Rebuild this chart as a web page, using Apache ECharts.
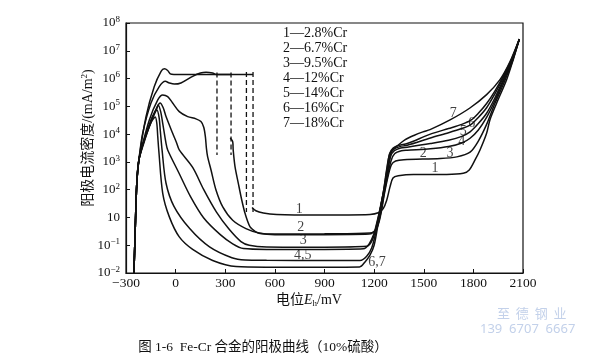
<!DOCTYPE html>
<html><head><meta charset="utf-8">
<script src="https://cdn.jsdelivr.net/npm/echarts@6/dist/echarts.min.js"></script>
<style>html,body{margin:0;padding:0;background:#fff}#c{width:600px;height:364px}</style>
</head><body><div id="c"></div>
<script>
// ---- data (x: potential mV, y: decade position on the printed axis, 0 = bottom tick) ----
const yTickExponents = ['−2', '−1', '', '2', '3', '4', '5', '6', '7', '8'];
const legendLines = ['1—2.8%Cr', '2—6.7%Cr', '3—9.5%Cr', '4—12%Cr', '5—14%Cr', '6—16%Cr', '7—18%Cr'];

const commonRise = [[-252, 0], [-245, 1.4], [-235, 3.2], [-222, 4.07]];

const curve1a = [[-179, 5.63], [-129, 6.71], [-88, 7.26], [-68, 7.35], [-48, 7.29], [-32, 7.17], [-10, 7.15], [468, 7.15]];
const curve1b = [[462, 2.36], [485, 2.24], [530, 2.16], [611, 2.11], [853, 2.09], [1175, 2.11], [1225, 2.17], [1255, 2.32], [1276, 2.62], [1296, 3.10], [1314, 3.42], [1346, 3.50], [1437, 3.55], [1639, 3.55], [1739, 3.59], [1775, 3.71], [1810, 4.07], [1840, 4.43], [1880, 5.03], [1900, 5.51], [1941, 6.12], [2001, 6.96], [2041, 7.68], [2078, 8.42]];

const curve2a = [[-199, 5.03], [-149, 6.12], [-99, 6.71], [-62, 6.90], [-38, 6.84], [-8, 6.80], [32, 6.84], [103, 7.08], [150, 7.2], [184, 7.23], [224, 7.2], [244, 7.15], [335, 7.15]];
const curve2b = [[330, 4.86], [345, 4.73], [348, 4.43], [359, 3.83], [379, 3.23], [400, 2.62], [420, 2.14], [450, 1.66], [480, 1.5], [510, 1.42], [600, 1.40], [900, 1.41], [1175, 1.44], [1215, 1.6], [1240, 2.1], [1262, 2.85], [1285, 3.5], [1305, 3.9], [1330, 4.03], [1380, 4.08], [1600, 4.12], [1700, 4.18], [1780, 4.35], [1830, 4.75], [1880, 5.35], [1930, 6.1], [1980, 6.78], [2030, 7.52], [2078, 8.42]];

const curve3 = [[-209, 4.43], [-159, 5.51], [-108, 6.23], [-78, 6.41], [-48, 6.35], [-18, 6.12], [22, 5.81], [73, 5.63], [123, 5.55], [153, 5.45], [170, 5.25], [180, 4.9], [186, 4.5], [193, 4.2], [214, 3.71], [244, 2.99], [285, 2.38], [345, 1.90], [425, 1.60], [505, 1.44], [600, 1.38], [900, 1.38], [1170, 1.40], [1212, 1.58], [1238, 2.1], [1260, 2.85], [1283, 3.55], [1303, 4.05], [1325, 4.3], [1365, 4.4], [1400, 4.42], [1540, 4.47], [1650, 4.55], [1730, 4.68], [1780, 4.85], [1830, 5.15], [1880, 5.6], [1930, 6.2], [1980, 6.88], [2030, 7.56], [2078, 8.42]];

const curve4 = [[-180, 4.9], [-140, 5.6], [-110, 6.0], [-94, 6.12], [-75, 5.95], [-58, 5.63], [-18, 5.03], [5, 4.7], [22, 4.43], [103, 3.8], [170, 3.0], [246, 2.2], [320, 1.6], [395, 1.13], [445, 1.0], [550, 0.94], [900, 0.93], [1155, 0.96], [1190, 1.2], [1218, 1.8], [1240, 2.4], [1260, 2.95], [1281, 3.6], [1300, 4.2], [1322, 4.4], [1360, 4.5], [1400, 4.53], [1540, 4.66], [1650, 4.78], [1730, 4.92], [1780, 5.08], [1830, 5.38], [1880, 5.75], [1930, 6.3], [1980, 6.95], [2030, 7.6], [2078, 8.42]];

const curve5 = [[-185, 4.85], [-140, 5.55], [-115, 5.9], [-105, 6.05], [-90, 5.8], [-78, 5.39], [-58, 4.67], [-48, 4.43], [20, 3.6], [90, 2.75], [170, 1.98], [270, 1.38], [345, 1.05], [410, 0.88], [550, 0.85], [900, 0.85], [1135, 0.87], [1170, 1.05], [1198, 1.4], [1222, 1.95], [1242, 2.5], [1260, 3.0], [1279, 3.65], [1297, 4.25], [1318, 4.45], [1355, 4.55], [1400, 4.6], [1540, 4.86], [1650, 5.05], [1730, 5.2], [1780, 5.32], [1830, 5.6], [1880, 5.95], [1930, 6.45], [1980, 7.02], [2030, 7.64], [2078, 8.42]];

const curve6 = [[-190, 4.8], [-150, 5.5], [-125, 5.8], [-113, 5.87], [-100, 5.6], [-93, 5.15], [-82, 4.43], [-58, 3.23], [-10, 2.4], [85, 1.6], [205, 0.94], [340, 0.55], [420, 0.47], [550, 0.46], [900, 0.45], [1115, 0.45], [1155, 0.6], [1185, 0.9], [1208, 1.4], [1228, 2.0], [1245, 2.55], [1260, 3.05], [1277, 3.7], [1294, 4.3], [1315, 4.5], [1350, 4.6], [1400, 4.66], [1540, 5.0], [1650, 5.2], [1730, 5.35], [1785, 5.5], [1830, 5.75], [1880, 6.1], [1930, 6.55], [1980, 7.08], [2030, 7.68], [2078, 8.42]];

const curve7 = [[-195, 4.7], [-155, 5.35], [-135, 5.55], [-123, 5.62], [-114, 5.4], [-108, 4.91], [-102, 4.43], [-78, 2.87], [-38, 2.02], [22, 1.30], [103, 0.85], [224, 0.45], [365, 0.23], [546, 0.21], [900, 0.21], [1112, 0.22], [1145, 0.40], [1175, 0.64], [1200, 1.0], [1222, 1.7], [1242, 2.45], [1258, 3.0], [1275, 3.7], [1292, 4.25], [1312, 4.45], [1336, 4.56], [1386, 4.79], [1440, 4.95], [1495, 5.08], [1538, 5.16], [1659, 5.51], [1779, 5.94], [1880, 6.42], [1961, 6.96], [2021, 7.6], [2078, 8.42]];

const dashedDrops = [
  [[250, 7.22], [250, 4.25]],
  [[335, 7.22], [335, 4.25]],
  [[428, 7.24], [428, 2.2]],
  [[468, 7.24], [468, 2.2]]
];

const curveLabels = [
  [748, 2.29, '1'], [756, 1.64, '2'], [772, 1.16, '3'], [768, 0.64, '4,5'], [1218, 0.40, '6,7'],
  [1568, 3.77, '1'], [1497, 4.30, '2'], [1659, 4.30, '3'], [1729, 4.73, '4'],
  [1739, 5.09, '5'], [1790, 5.39, '6'], [1679, 5.75, '7']
];

// ---- chart ----
const SERIF = "'Liberation Serif','Times New Roman',serif";
const CJK = "'Liberation Serif','Noto Sans CJK SC',serif";
const INK = '#111';

const solidSegments = [
  commonRise.concat(curve1a), curve1b,
  commonRise.concat(curve2a), curve2b,
  commonRise.concat(curve3),
  commonRise.concat(curve4),
  commonRise.concat(curve5),
  commonRise.concat(curve6),
  commonRise.concat(curve7)
];

const series = [];
solidSegments.forEach(pts => series.push({
  type: 'line', data: pts, symbol: 'none', smooth: 0.3, silent: true,
  lineStyle: { color: INK, width: 1.5 }, z: 3
}));
dashedDrops.forEach(pts => series.push({
  type: 'line', data: pts, symbol: 'none', silent: true,
  lineStyle: { color: INK, width: 1.3, type: [5, 3] }, z: 3
}));
series.push({
  type: 'scatter', symbolSize: 1, silent: true,
  itemStyle: { color: 'rgba(0,0,0,0)' },
  data: curveLabels.map(l => ({ value: [l[0], l[1]], name: l[2] })),
  label: { show: true, position: 'inside', formatter: '{b}', color: INK, fontFamily: SERIF, fontSize: 14 },
  z: 5
});

const legendGraphics = legendLines.map((t, i) => ({
  type: 'text', left: 283, top: 26 + i * 15.1,
  style: { text: t, fill: INK, font: '14px ' + SERIF }
}));

const chart = echarts.init(document.getElementById('c'), null, { renderer: 'canvas' });
chart.setOption({
  animation: false,
  backgroundColor: '#fff',
  grid: { left: 126, right: 77, top: 23, bottom: 91, show: true, borderColor: INK, borderWidth: 1.2, backgroundColor: 'transparent' },
  xAxis: {
    type: 'value', min: -300, max: 2100, interval: 300,
    axisLine: { onZero: false, lineStyle: { color: INK, width: 1.2 } },
    axisTick: { inside: true, length: 4, lineStyle: { color: INK, width: 1 } },
    splitLine: { show: false },
    axisLabel: { color: INK, fontFamily: SERIF, fontSize: 13.5, margin: 3,
      formatter: v => (v < 0 ? '−' + Math.abs(v) : String(v)) }
  },
  yAxis: {
    type: 'value', min: 0, max: 9, interval: 1,
    axisLine: { onZero: false, lineStyle: { color: INK, width: 1.2 } },
    axisTick: { inside: true, length: 4, lineStyle: { color: INK, width: 1 } },
    splitLine: { show: false },
    axisLabel: {
      margin: 6, color: INK,
      formatter: v => { const e = yTickExponents[Math.round(v)]; return e ? '{b|10}{s|' + e + '}' : '{b|10}'; },
      rich: {
        b: { fontFamily: SERIF, fontSize: 13, lineHeight: 16, color: INK },
        s: { fontFamily: SERIF, fontSize: 9, lineHeight: 9, verticalAlign: 'top', color: INK }
      }
    }
  },
  series: series,
  graphic: legendGraphics.concat([
    { type: 'text', x: 88, y: 138, rotation: Math.PI / 2,
      style: { text: '{a|阳极电流密度/(mA/m}{s|2}{a|)}', align: 'center', verticalAlign: 'middle',
        rich: { a: { font: '14px ' + CJK, fill: INK, lineHeight: 16 }, s: { font: '9px ' + SERIF, fill: INK, lineHeight: 9, verticalAlign: 'top' } } } },
    { type: 'text', x: 309, y: 300,
      style: { text: '{a|电位}{e|E}{h|h}{a|/mV}', align: 'center', verticalAlign: 'middle',
        rich: { a: { font: '14px ' + CJK, fill: INK, lineHeight: 16 }, e: { font: 'italic 14px ' + SERIF, fill: INK, lineHeight: 16 }, h: { font: '9px ' + SERIF, fill: INK, lineHeight: 9, verticalAlign: 'bottom' } } } },
    { type: 'text', x: 263, y: 347,
      style: { text: '图 1-6  Fe-Cr 合金的阳极曲线（10%硫酸）', align: 'center', verticalAlign: 'middle', font: '13.5px ' + CJK, fill: INK } },
    { type: 'text', x: 497, y: 313,
      style: { text: '至  德  钢  业', verticalAlign: 'middle', font: '13px "Noto Sans CJK SC"', fill: '#c3d1ea' } },
    { type: 'text', x: 480, y: 329,
      style: { text: '139  6707  6667', verticalAlign: 'middle', font: '13px "Noto Sans", sans-serif', fill: '#c3d1ea' } }
  ])
});
</script>
</body></html>
